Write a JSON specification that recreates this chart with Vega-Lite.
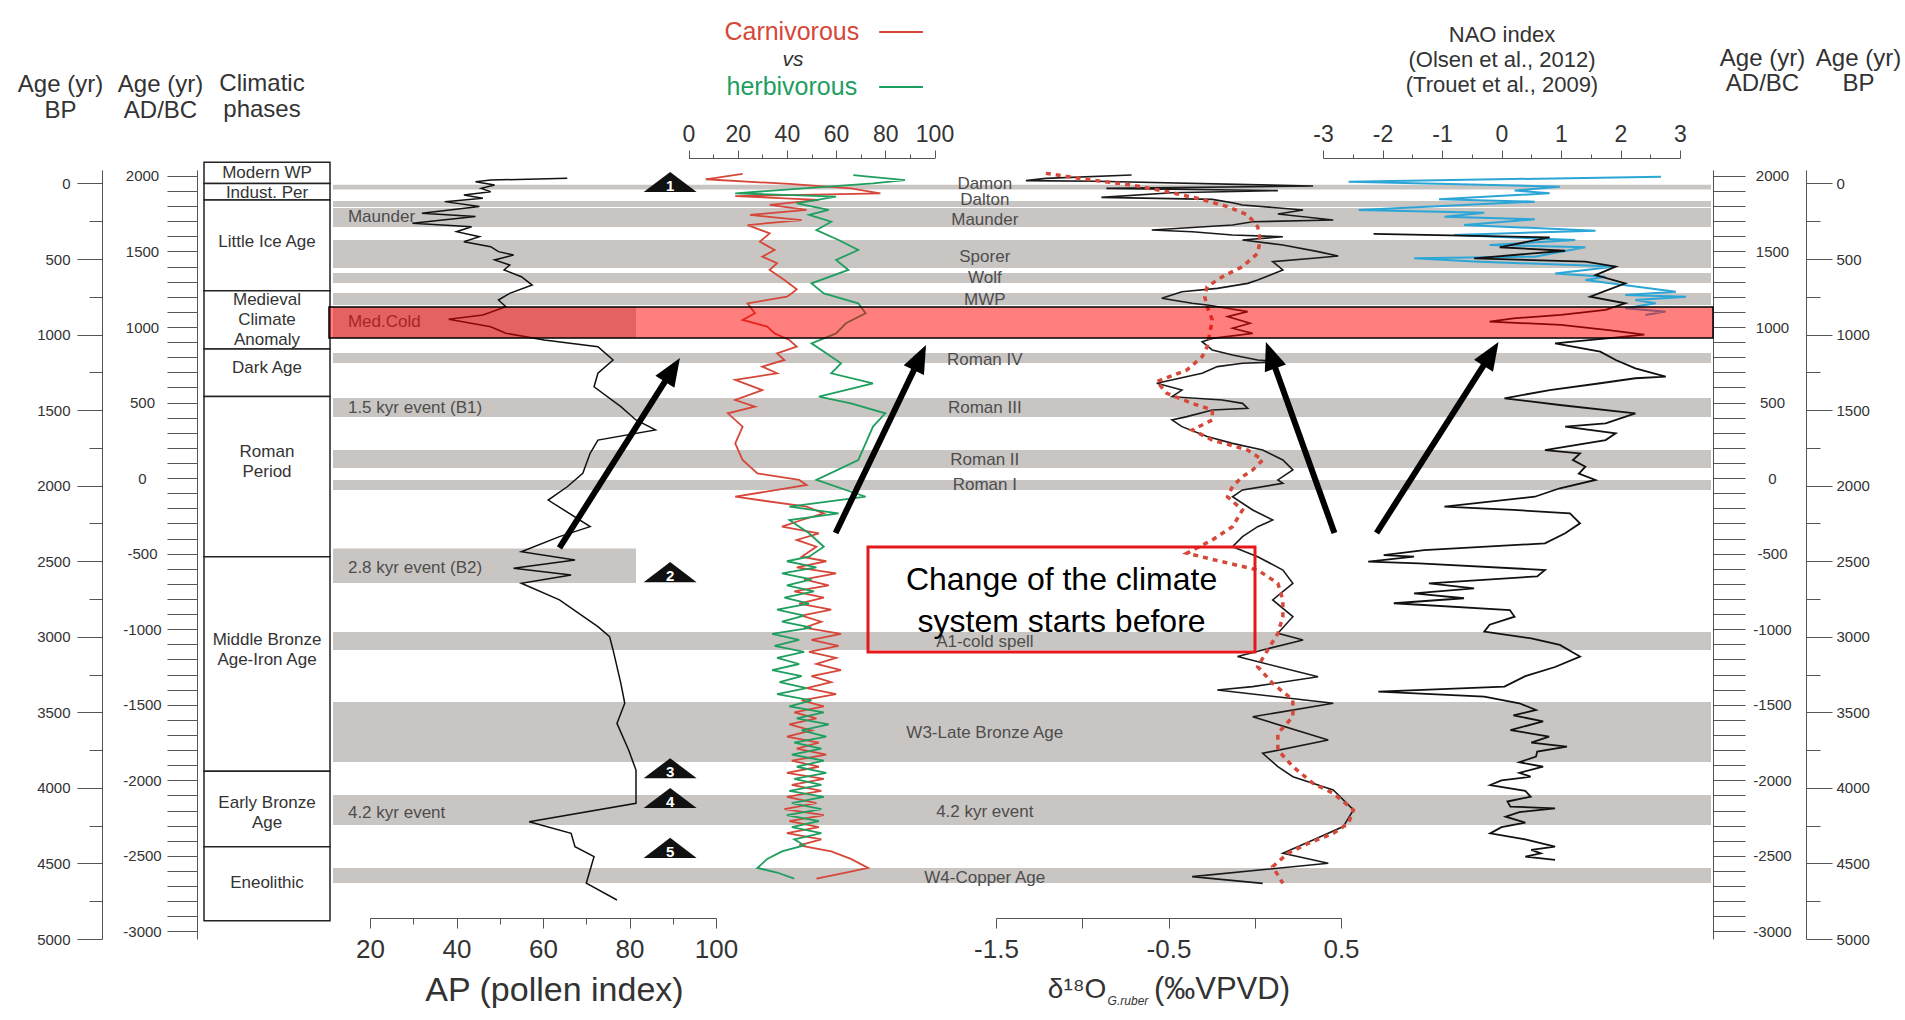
{
"$schema":"https://vega.github.io/schema/vega-lite/v6.json",
"width":1905,"height":1020,"autosize":{"type":"none"},"padding":0,"background":"#ffffff",
"config":{"font":"Liberation Sans","view":{"stroke":null},
"axis":{"grid":false,"labelFlush":false,"labelOverlap":false,"labelBound":false,"domainColor":"#555","tickColor":"#555","labelColor":"#333","titleColor":"#333","labelFont":"Liberation Sans","titleFont":"Liberation Sans","titleFontWeight":"normal"}},
"resolve":{"scale":{"x":"independent"},"axis":{"x":"independent","y":"independent"}},
"datasets":{
"bands":[
{"name":"Damon","bp":8,"bp2":40,"extent":"all"},
{"name":"Dalton","bp":116,"bp2":156,"extent":"all"},
{"name":"Maunder","bp":162,"bp2":288,"extent":"all"},
{"name":"Sporer","bp":374,"bp2":559,"extent":"all"},
{"name":"Wolf","bp":592,"bp2":658,"extent":"all"},
{"name":"MWP","bp":725,"bp2":804,"extent":"all"},
{"name":"Roman IV","bp":1122,"bp2":1188,"extent":"all"},
{"name":"Roman III / 1.5 kyr event (B1)","bp":1420,"bp2":1545,"extent":"all"},
{"name":"Roman II","bp":1764,"bp2":1883,"extent":"all"},
{"name":"Roman I","bp":1962,"bp2":2029,"extent":"all"},
{"name":"A1-cold spell","bp":2968,"bp2":3087,"extent":"all"},
{"name":"W3-Late Bronze Age","bp":3432,"bp2":3829,"extent":"all"},
{"name":"4.2 kyr event","bp":4047,"bp2":4246,"extent":"all"},
{"name":"W4-Copper Age","bp":4530,"bp2":4629,"extent":"all"},
{"name":"Med.Cold","bp":817,"bp2":1022,"extent":"ap"},
{"name":"2.8 kyr event (B2)","bp":2416,"bp2":2644,"extent":"ap"}],
"band_labels":[
{"label":"Damon","bp":3,"pos":"center"},
{"label":"Dalton","bp":109,"pos":"center"},
{"label":"Maunder","bp":242,"pos":"center"},
{"label":"Sporer","bp":486,"pos":"center"},
{"label":"Wolf","bp":626,"pos":"center"},
{"label":"MWP","bp":771,"pos":"center"},
{"label":"Roman IV","bp":1168,"pos":"center"},
{"label":"Roman III","bp":1486,"pos":"center"},
{"label":"Roman II","bp":1830,"pos":"center"},
{"label":"Roman I","bp":1996,"pos":"center"},
{"label":"A1-cold spell","bp":3035,"pos":"center"},
{"label":"W3-Late Bronze Age","bp":3637,"pos":"center"},
{"label":"4.2 kyr event","bp":4160,"pos":"center"},
{"label":"W4-Copper Age","bp":4596,"pos":"center"},
{"label":"Maunder","bp":222,"pos":"left"},
{"label":"Med.Cold","bp":917,"pos":"left"},
{"label":"1.5 kyr event (B1)","bp":1487,"pos":"left"},
{"label":"2.8 kyr event (B2)","bp":2543,"pos":"left"},
{"label":"4.2 kyr event","bp":4166,"pos":"left"}],
"phases":[
{"phase":"Modern WP","bp":-140,"bp2":0,"label_bp":-69},
{"phase":"Indust. Per","bp":0,"bp2":110,"label_bp":62},
{"phase":"Little Ice Age","bp":110,"bp2":710,"label_bp":387},
{"phase":"Medieval\nClimate\nAnomaly","bp":710,"bp2":1095,"label_bp":771},
{"phase":"Dark Age","bp":1095,"bp2":1410,"label_bp":1221},
{"phase":"Roman\nPeriod","bp":1410,"bp2":2470,"label_bp":1777},
{"phase":"Middle Bronze\nAge-Iron Age","bp":2470,"bp2":3890,"label_bp":3023},
{"phase":"Early Bronze\nAge","bp":3890,"bp2":4390,"label_bp":4101},
{"phase":"Eneolithic","bp":4390,"bp2":4880,"label_bp":4629}],
"events":[{"event":"1","bp":-10},{"event":"2","bp":2572},{"event":"3","bp":3870},{"event":"4","bp":4067},{"event":"5","bp":4397}],
"arrows":[
{"arrow":1,"tail_v":63.8,"tail_bp":2412,"head_v":90.5,"head_bp":1207},
{"arrow":2,"tail_v":59.8,"tail_bp":2313,"head_v":94.9,"head_bp":1124},
{"arrow":3,"tail_v":0.462,"tail_bp":2313,"head_v":0.083,"head_bp":1107},
{"arrow":4,"tail_v":-2.1,"tail_bp":2313,"head_v":-0.134,"head_bp":1101}],
"header":[{"series":"carnivorous","label":"Carnivorous","bp":-1003},{"series":"herbivorous","label":"herbivorous","bp":-639}],
"ap":[
{"bp":-34,"ap":65.6},{"bp":-23,"ap":47.9},{"bp":-12,"ap":44.4},{"bp":10,"ap":48.8},{"bp":32,"ap":45.7},{"bp":54,"ap":47.9},{"bp":76,"ap":41.7},{"bp":98,"ap":46.1},{"bp":120,"ap":37.3},{"bp":153,"ap":45.3},{"bp":197,"ap":32.0},{"bp":219,"ap":44.4},{"bp":263,"ap":29.8},{"bp":286,"ap":43.5},{"bp":319,"ap":40.0},{"bp":352,"ap":45.3},{"bp":385,"ap":41.7},{"bp":418,"ap":47.9},{"bp":451,"ap":49.7},{"bp":473,"ap":53.2},{"bp":506,"ap":48.8},{"bp":539,"ap":52.3},{"bp":572,"ap":51.0},{"bp":617,"ap":55.0},{"bp":672,"ap":57.5},{"bp":727,"ap":52.3},{"bp":771,"ap":49.7},{"bp":815,"ap":51.4},{"bp":870,"ap":46.1},{"bp":899,"ap":38.2},{"bp":948,"ap":47.9},{"bp":991,"ap":51.4},{"bp":1036,"ap":60.3},{"bp":1080,"ap":72.7},{"bp":1168,"ap":76.2},{"bp":1256,"ap":72.7},{"bp":1345,"ap":71.8},{"bp":1477,"ap":78.0},{"bp":1565,"ap":81.5},{"bp":1631,"ap":86.0},{"bp":1698,"ap":72.7},{"bp":1786,"ap":70.9},{"bp":1918,"ap":69.2},{"bp":2007,"ap":65.6},{"bp":2095,"ap":61.2},{"bp":2271,"ap":70.9},{"bp":2337,"ap":63.8},{"bp":2437,"ap":55.0},{"bp":2492,"ap":67.4},{"bp":2547,"ap":53.2},{"bp":2591,"ap":66.5},{"bp":2646,"ap":55.0},{"bp":2756,"ap":63.8},{"bp":2933,"ap":72.7},{"bp":2999,"ap":75.4},{"bp":3087,"ap":76.2},{"bp":3308,"ap":78.0},{"bp":3440,"ap":78.9},{"bp":3573,"ap":77.1},{"bp":3749,"ap":79.8},{"bp":3882,"ap":81.5},{"bp":4102,"ap":81.5},{"bp":4224,"ap":56.8},{"bp":4301,"ap":66.5},{"bp":4389,"ap":67.4},{"bp":4455,"ap":71.8},{"bp":4631,"ap":70.0},{"bp":4742,"ap":77.1}],
"fauna":[
{"series":"carnivorous","bp":-63,"pct":22},{"series":"carnivorous","bp":-28,"pct":7},{"series":"carnivorous","bp":3,"pct":41},{"series":"carnivorous","bp":32,"pct":66},{"series":"carnivorous","bp":65,"pct":78},{"series":"carnivorous","bp":83,"pct":19},{"series":"carnivorous","bp":109,"pct":53},{"series":"carnivorous","bp":142,"pct":33},{"series":"carnivorous","bp":175,"pct":48},{"series":"carnivorous","bp":208,"pct":25},{"series":"carnivorous","bp":242,"pct":46},{"series":"carnivorous","bp":275,"pct":24},{"series":"carnivorous","bp":330,"pct":33},{"series":"carnivorous","bp":385,"pct":29},{"series":"carnivorous","bp":440,"pct":35},{"series":"carnivorous","bp":484,"pct":30},{"series":"carnivorous","bp":528,"pct":36},{"series":"carnivorous","bp":572,"pct":33},{"series":"carnivorous","bp":639,"pct":39},{"series":"carnivorous","bp":700,"pct":44},{"series":"carnivorous","bp":727,"pct":42},{"series":"carnivorous","bp":749,"pct":40},{"series":"carnivorous","bp":793,"pct":24},{"series":"carnivorous","bp":859,"pct":27},{"series":"carnivorous","bp":903,"pct":22},{"series":"carnivorous","bp":947,"pct":32},{"series":"carnivorous","bp":992,"pct":35},{"series":"carnivorous","bp":1036,"pct":41},{"series":"carnivorous","bp":1080,"pct":44},{"series":"carnivorous","bp":1124,"pct":36},{"series":"carnivorous","bp":1168,"pct":39},{"series":"carnivorous","bp":1212,"pct":30},{"series":"carnivorous","bp":1256,"pct":36},{"series":"carnivorous","bp":1300,"pct":19},{"series":"carnivorous","bp":1367,"pct":30},{"series":"carnivorous","bp":1433,"pct":19},{"series":"carnivorous","bp":1477,"pct":27},{"series":"carnivorous","bp":1521,"pct":16},{"series":"carnivorous","bp":1609,"pct":22},{"series":"carnivorous","bp":1720,"pct":19},{"series":"carnivorous","bp":1830,"pct":22},{"series":"carnivorous","bp":1918,"pct":28},{"series":"carnivorous","bp":1962,"pct":45},{"series":"carnivorous","bp":1995,"pct":48},{"series":"carnivorous","bp":2073,"pct":19},{"series":"carnivorous","bp":2139,"pct":48},{"series":"carnivorous","bp":2183,"pct":55},{"series":"carnivorous","bp":2227,"pct":46},{"series":"carnivorous","bp":2271,"pct":38},{"series":"carnivorous","bp":2315,"pct":53},{"series":"carnivorous","bp":2359,"pct":44},{"series":"carnivorous","bp":2404,"pct":52},{"series":"carnivorous","bp":2470,"pct":46},{"series":"carnivorous","bp":2500,"pct":56},{"series":"carnivorous","bp":2540,"pct":44},{"series":"carnivorous","bp":2580,"pct":60},{"series":"carnivorous","bp":2620,"pct":47},{"series":"carnivorous","bp":2660,"pct":57},{"series":"carnivorous","bp":2700,"pct":43},{"series":"carnivorous","bp":2740,"pct":55},{"series":"carnivorous","bp":2780,"pct":45},{"series":"carnivorous","bp":2820,"pct":58},{"series":"carnivorous","bp":2860,"pct":46},{"series":"carnivorous","bp":2900,"pct":54},{"series":"carnivorous","bp":2940,"pct":47},{"series":"carnivorous","bp":2980,"pct":62},{"series":"carnivorous","bp":3020,"pct":50},{"series":"carnivorous","bp":3060,"pct":61},{"series":"carnivorous","bp":3100,"pct":49},{"series":"carnivorous","bp":3140,"pct":60},{"series":"carnivorous","bp":3180,"pct":52},{"series":"carnivorous","bp":3220,"pct":62},{"series":"carnivorous","bp":3260,"pct":50},{"series":"carnivorous","bp":3300,"pct":58},{"series":"carnivorous","bp":3340,"pct":48},{"series":"carnivorous","bp":3380,"pct":60},{"series":"carnivorous","bp":3420,"pct":46},{"series":"carnivorous","bp":3460,"pct":55},{"series":"carnivorous","bp":3500,"pct":43},{"series":"carnivorous","bp":3540,"pct":52},{"series":"carnivorous","bp":3580,"pct":41},{"series":"carnivorous","bp":3620,"pct":50},{"series":"carnivorous","bp":3660,"pct":40},{"series":"carnivorous","bp":3700,"pct":53},{"series":"carnivorous","bp":3740,"pct":44},{"series":"carnivorous","bp":3780,"pct":56},{"series":"carnivorous","bp":3820,"pct":42},{"series":"carnivorous","bp":3860,"pct":53},{"series":"carnivorous","bp":3900,"pct":40},{"series":"carnivorous","bp":3940,"pct":55},{"series":"carnivorous","bp":3980,"pct":42},{"series":"carnivorous","bp":4020,"pct":54},{"series":"carnivorous","bp":4060,"pct":40},{"series":"carnivorous","bp":4100,"pct":52},{"series":"carnivorous","bp":4140,"pct":39},{"series":"carnivorous","bp":4180,"pct":55},{"series":"carnivorous","bp":4220,"pct":41},{"series":"carnivorous","bp":4260,"pct":53},{"series":"carnivorous","bp":4300,"pct":40},{"series":"carnivorous","bp":4340,"pct":54},{"series":"carnivorous","bp":4380,"pct":45},{"series":"carnivorous","bp":4420,"pct":58},{"series":"carnivorous","bp":4470,"pct":66},{"series":"carnivorous","bp":4530,"pct":73},{"series":"carnivorous","bp":4560,"pct":64},{"series":"carnivorous","bp":4600,"pct":52},
{"series":"herbivorous","bp":-56,"pct":67},{"series":"herbivorous","bp":-23,"pct":88},{"series":"herbivorous","bp":-1,"pct":75},{"series":"herbivorous","bp":65,"pct":19},{"series":"herbivorous","bp":87,"pct":60},{"series":"herbivorous","bp":131,"pct":44},{"series":"herbivorous","bp":175,"pct":57},{"series":"herbivorous","bp":208,"pct":49},{"series":"herbivorous","bp":253,"pct":58},{"series":"herbivorous","bp":308,"pct":52},{"series":"herbivorous","bp":374,"pct":61},{"series":"herbivorous","bp":440,"pct":69},{"series":"herbivorous","bp":506,"pct":60},{"series":"herbivorous","bp":572,"pct":65},{"series":"herbivorous","bp":661,"pct":50},{"series":"herbivorous","bp":727,"pct":55},{"series":"herbivorous","bp":793,"pct":69},{"series":"herbivorous","bp":859,"pct":72},{"series":"herbivorous","bp":925,"pct":64},{"series":"herbivorous","bp":992,"pct":60},{"series":"herbivorous","bp":1058,"pct":50},{"series":"herbivorous","bp":1124,"pct":56},{"series":"herbivorous","bp":1190,"pct":62},{"series":"herbivorous","bp":1256,"pct":58},{"series":"herbivorous","bp":1322,"pct":75},{"series":"herbivorous","bp":1411,"pct":53},{"series":"herbivorous","bp":1455,"pct":66},{"series":"herbivorous","bp":1521,"pct":80},{"series":"herbivorous","bp":1609,"pct":75},{"series":"herbivorous","bp":1720,"pct":72},{"series":"herbivorous","bp":1830,"pct":69},{"series":"herbivorous","bp":1962,"pct":52},{"series":"herbivorous","bp":2073,"pct":72},{"series":"herbivorous","bp":2139,"pct":41},{"series":"herbivorous","bp":2183,"pct":61},{"series":"herbivorous","bp":2227,"pct":41},{"series":"herbivorous","bp":2315,"pct":49},{"series":"herbivorous","bp":2404,"pct":55},{"series":"herbivorous","bp":2470,"pct":49},{"series":"herbivorous","bp":2500,"pct":40},{"series":"herbivorous","bp":2540,"pct":52},{"series":"herbivorous","bp":2580,"pct":38},{"series":"herbivorous","bp":2620,"pct":50},{"series":"herbivorous","bp":2660,"pct":40},{"series":"herbivorous","bp":2700,"pct":51},{"series":"herbivorous","bp":2740,"pct":39},{"series":"herbivorous","bp":2780,"pct":49},{"series":"herbivorous","bp":2820,"pct":36},{"series":"herbivorous","bp":2860,"pct":47},{"series":"herbivorous","bp":2900,"pct":38},{"series":"herbivorous","bp":2940,"pct":50},{"series":"herbivorous","bp":2980,"pct":34},{"series":"herbivorous","bp":3020,"pct":45},{"series":"herbivorous","bp":3060,"pct":35},{"series":"herbivorous","bp":3100,"pct":47},{"series":"herbivorous","bp":3140,"pct":36},{"series":"herbivorous","bp":3180,"pct":45},{"series":"herbivorous","bp":3220,"pct":34},{"series":"herbivorous","bp":3260,"pct":46},{"series":"herbivorous","bp":3300,"pct":37},{"series":"herbivorous","bp":3340,"pct":48},{"series":"herbivorous","bp":3380,"pct":36},{"series":"herbivorous","bp":3420,"pct":50},{"series":"herbivorous","bp":3460,"pct":41},{"series":"herbivorous","bp":3500,"pct":55},{"series":"herbivorous","bp":3540,"pct":44},{"series":"herbivorous","bp":3580,"pct":57},{"series":"herbivorous","bp":3620,"pct":46},{"series":"herbivorous","bp":3660,"pct":56},{"series":"herbivorous","bp":3700,"pct":43},{"series":"herbivorous","bp":3740,"pct":54},{"series":"herbivorous","bp":3780,"pct":42},{"series":"herbivorous","bp":3820,"pct":55},{"series":"herbivorous","bp":3860,"pct":44},{"series":"herbivorous","bp":3900,"pct":56},{"series":"herbivorous","bp":3940,"pct":43},{"series":"herbivorous","bp":3980,"pct":54},{"series":"herbivorous","bp":4020,"pct":41},{"series":"herbivorous","bp":4060,"pct":55},{"series":"herbivorous","bp":4100,"pct":42},{"series":"herbivorous","bp":4140,"pct":54},{"series":"herbivorous","bp":4180,"pct":40},{"series":"herbivorous","bp":4220,"pct":53},{"series":"herbivorous","bp":4260,"pct":42},{"series":"herbivorous","bp":4300,"pct":54},{"series":"herbivorous","bp":4340,"pct":43},{"series":"herbivorous","bp":4380,"pct":47},{"series":"herbivorous","bp":4420,"pct":38},{"series":"herbivorous","bp":4470,"pct":32},{"series":"herbivorous","bp":4530,"pct":28},{"series":"herbivorous","bp":4560,"pct":36},{"series":"herbivorous","bp":4600,"pct":43}],
"d18o":[
{"bp":-56,"v":-0.714},{"bp":-34,"v":-1.211},{"bp":-19,"v":-1.327},{"bp":-15,"v":-0.918},{"bp":17,"v":0.338},{"bp":32,"v":-0.86},{"bp":47,"v":0.134},{"bp":61,"v":-0.48},{"bp":92,"v":-0.889},{"bp":105,"v":-0.246},{"bp":127,"v":-0.129},{"bp":142,"v":-0.071},{"bp":175,"v":0.28},{"bp":202,"v":0.134},{"bp":242,"v":0.455},{"bp":253,"v":-0.012},{"bp":275,"v":-0.129},{"bp":308,"v":-0.597},{"bp":319,"v":-0.363},{"bp":341,"v":-0.129},{"bp":352,"v":0.163},{"bp":374,"v":-0.071},{"bp":407,"v":0.163},{"bp":451,"v":0.367},{"bp":480,"v":0.484},{"bp":495,"v":0.338},{"bp":517,"v":0.104},{"bp":572,"v":0.163},{"bp":639,"v":0.017},{"bp":661,"v":-0.041},{"bp":694,"v":-0.217},{"bp":716,"v":-0.422},{"bp":760,"v":-0.539},{"bp":793,"v":-0.363},{"bp":804,"v":-0.276},{"bp":848,"v":-0.041},{"bp":881,"v":-0.158},{"bp":925,"v":-0.027},{"bp":958,"v":-0.129},{"bp":992,"v":-0.012},{"bp":1025,"v":-0.246},{"bp":1047,"v":-0.305},{"bp":1102,"v":-0.246},{"bp":1135,"v":-0.129},{"bp":1168,"v":0.017},{"bp":1179,"v":0.163},{"bp":1190,"v":-0.071},{"bp":1212,"v":-0.217},{"bp":1256,"v":-0.305},{"bp":1322,"v":-0.568},{"bp":1367,"v":-0.422},{"bp":1411,"v":-0.48},{"bp":1433,"v":-0.188},{"bp":1455,"v":-0.071},{"bp":1488,"v":-0.041},{"bp":1499,"v":-0.246},{"bp":1543,"v":-0.393},{"bp":1565,"v":-0.48},{"bp":1609,"v":-0.422},{"bp":1675,"v":-0.276},{"bp":1720,"v":-0.129},{"bp":1764,"v":0.046},{"bp":1830,"v":0.163},{"bp":1896,"v":0.221},{"bp":1962,"v":0.134},{"bp":1984,"v":0.163},{"bp":2028,"v":-0.071},{"bp":2073,"v":-0.129},{"bp":2161,"v":-0.012},{"bp":2227,"v":0.104},{"bp":2271,"v":0.017},{"bp":2337,"v":-0.071},{"bp":2404,"v":-0.129},{"bp":2470,"v":0.017},{"bp":2558,"v":0.163},{"bp":2646,"v":0.221},{"bp":2756,"v":0.104},{"bp":2867,"v":0.221},{"bp":2977,"v":0.134},{"bp":3021,"v":0.28},{"bp":3087,"v":0.046},{"bp":3131,"v":-0.1},{"bp":3264,"v":0.367},{"bp":3330,"v":-0.012},{"bp":3352,"v":-0.217},{"bp":3440,"v":0.455},{"bp":3529,"v":-0.012},{"bp":3683,"v":0.426},{"bp":3771,"v":0.046},{"bp":3859,"v":0.134},{"bp":3926,"v":0.221},{"bp":4014,"v":0.455},{"bp":4146,"v":0.572},{"bp":4256,"v":0.513},{"bp":4345,"v":0.338},{"bp":4433,"v":0.163},{"bp":4499,"v":0.426},{"bp":4587,"v":-0.363},{"bp":4632,"v":0.046}],
"d18o_smooth":[
{"bp":-67,"v":-1.211},{"bp":-23,"v":-0.947},{"bp":10,"v":-0.714},{"bp":54,"v":-0.509},{"bp":98,"v":-0.334},{"bp":153,"v":-0.158},{"bp":208,"v":-0.041},{"bp":286,"v":0.017},{"bp":374,"v":0.031},{"bp":462,"v":0.017},{"bp":550,"v":-0.071},{"bp":617,"v":-0.188},{"bp":683,"v":-0.276},{"bp":749,"v":-0.29},{"bp":815,"v":-0.276},{"bp":903,"v":-0.246},{"bp":992,"v":-0.261},{"bp":1080,"v":-0.276},{"bp":1146,"v":-0.305},{"bp":1234,"v":-0.393},{"bp":1311,"v":-0.568},{"bp":1389,"v":-0.509},{"bp":1455,"v":-0.363},{"bp":1499,"v":-0.246},{"bp":1565,"v":-0.246},{"bp":1631,"v":-0.363},{"bp":1698,"v":-0.246},{"bp":1764,"v":-0.041},{"bp":1830,"v":0.046},{"bp":1896,"v":-0.012},{"bp":1940,"v":-0.071},{"bp":2006,"v":-0.129},{"bp":2073,"v":-0.158},{"bp":2161,"v":-0.071},{"bp":2271,"v":-0.129},{"bp":2359,"v":-0.246},{"bp":2447,"v":-0.393},{"bp":2500,"v":-0.2},{"bp":2558,"v":0.017},{"bp":2646,"v":0.134},{"bp":2756,"v":0.163},{"bp":2867,"v":0.163},{"bp":2977,"v":0.134},{"bp":3087,"v":0.075},{"bp":3198,"v":0.017},{"bp":3308,"v":0.104},{"bp":3418,"v":0.221},{"bp":3529,"v":0.221},{"bp":3639,"v":0.134},{"bp":3749,"v":0.134},{"bp":3859,"v":0.221},{"bp":3970,"v":0.338},{"bp":4036,"v":0.455},{"bp":4146,"v":0.572},{"bp":4234,"v":0.543},{"bp":4301,"v":0.455},{"bp":4367,"v":0.309},{"bp":4433,"v":0.192},{"bp":4521,"v":0.104},{"bp":4632,"v":0.163}],
"nao_trouet":[
{"bp":-45,"nao":2.68},{"bp":-12,"nao":-2.57},{"bp":21,"nao":0.98},{"bp":47,"nao":0.22},{"bp":65,"nao":0.81},{"bp":105,"nao":-1.05},{"bp":120,"nao":0.56},{"bp":175,"nao":-2.4},{"bp":193,"nao":-0.29},{"bp":220,"nao":-0.96},{"bp":237,"nao":0.56},{"bp":275,"nao":-0.63},{"bp":312,"nao":1.58},{"bp":341,"nao":-0.8},{"bp":374,"nao":1.24},{"bp":407,"nao":-0.2},{"bp":422,"nao":1.41},{"bp":484,"nao":0.56},{"bp":495,"nao":-1.47},{"bp":517,"nao":-0.46},{"bp":550,"nao":1.92},{"bp":595,"nao":0.9},{"bp":617,"nao":1.75},{"bp":639,"nao":1.41},{"bp":716,"nao":2.93},{"bp":738,"nao":2.08},{"bp":749,"nao":3.1},{"bp":771,"nao":2.25},{"bp":793,"nao":2.59},{"bp":826,"nao":2.08},{"bp":848,"nao":2.76},{"bp":870,"nao":2.42}],
"nao_olsen":[
{"bp":334,"nao":-2.15},{"bp":356,"nao":0.81},{"bp":422,"nao":-0.03},{"bp":445,"nao":1.07},{"bp":495,"nao":-0.46},{"bp":517,"nao":1.41},{"bp":550,"nao":1.92},{"bp":606,"nao":1.58},{"bp":661,"nao":2.08},{"bp":749,"nao":1.49},{"bp":793,"nao":2.08},{"bp":837,"nao":1.75},{"bp":870,"nao":1.0},{"bp":892,"nao":0.2},{"bp":914,"nao":-0.2},{"bp":936,"nao":1.0},{"bp":970,"nao":1.8},{"bp":1000,"nao":2.4},{"bp":1020,"nao":1.9},{"bp":1058,"nao":0.9},{"bp":1113,"nao":1.66},{"bp":1168,"nao":1.92},{"bp":1223,"nao":2.25},{"bp":1278,"nao":2.76},{"bp":1289,"nao":2.25},{"bp":1322,"nao":1.66},{"bp":1367,"nao":0.81},{"bp":1422,"nao":0.05},{"bp":1466,"nao":0.98},{"bp":1521,"nao":2.25},{"bp":1587,"nao":1.75},{"bp":1609,"nao":1.07},{"bp":1653,"nao":1.92},{"bp":1698,"nao":1.75},{"bp":1764,"nao":0.73},{"bp":1786,"nao":1.32},{"bp":1830,"nao":1.2},{"bp":1874,"nao":1.41},{"bp":1920,"nao":1.3},{"bp":1962,"nao":1.58},{"bp":2017,"nao":0.98},{"bp":2073,"nao":0.56},{"bp":2139,"nao":-0.96},{"bp":2160,"nao":0.2},{"bp":2183,"nao":1.15},{"bp":2249,"nao":1.32},{"bp":2315,"nao":1.07},{"bp":2382,"nao":0.73},{"bp":2426,"nao":-1.3},{"bp":2459,"nao":-1.98},{"bp":2470,"nao":-1.47},{"bp":2503,"nao":-2.24},{"bp":2514,"nao":-1.39},{"bp":2558,"nao":0.73},{"bp":2600,"nao":0.6},{"bp":2646,"nao":-1.22},{"bp":2679,"nao":-0.46},{"bp":2712,"nao":-1.47},{"bp":2745,"nao":-0.63},{"bp":2778,"nao":-1.81},{"bp":2823,"nao":0.14},{"bp":2867,"nao":0.22},{"bp":2920,"nao":-0.2},{"bp":2966,"nao":-0.29},{"bp":3010,"nao":0.5},{"bp":3054,"nao":0.98},{"bp":3131,"nao":1.32},{"bp":3200,"nao":0.9},{"bp":3260,"nao":0.4},{"bp":3330,"nao":0.05},{"bp":3363,"nao":-2.07},{"bp":3396,"nao":-0.29},{"bp":3440,"nao":0.3},{"bp":3484,"nao":0.58},{"bp":3520,"nao":0.2},{"bp":3560,"nao":0.7},{"bp":3617,"nao":0.15},{"bp":3660,"nao":0.8},{"bp":3700,"nao":0.5},{"bp":3727,"nao":1.1},{"bp":3760,"nao":0.6},{"bp":3793,"nao":0.58},{"bp":3830,"nao":0.3},{"bp":3860,"nao":0.7},{"bp":3900,"nao":0.3},{"bp":3926,"nao":0.49},{"bp":3950,"nao":0.0},{"bp":3981,"nao":-0.19},{"bp":4020,"nao":0.4},{"bp":4058,"nao":0.49},{"bp":4090,"nao":0.1},{"bp":4124,"nao":0.15},{"bp":4135,"nao":0.9},{"bp":4160,"nao":0.3},{"bp":4190,"nao":0.07},{"bp":4230,"nao":0.4},{"bp":4260,"nao":0.0},{"bp":4301,"nao":-0.19},{"bp":4340,"nao":0.4},{"bp":4389,"nao":0.9},{"bp":4410,"nao":0.5},{"bp":4433,"nao":0.66},{"bp":4455,"nao":0.4},{"bp":4477,"nao":0.9}]
},
"layer":[
{"data":{"name":"bands"},"transform":[{"filter":"datum.extent === 'all'"}],
 "mark":{"type":"rect","color":"#c9c5c3"},
 "encoding":{
  "x":{"datum":"all","type":"nominal","scale":{"type":"band","domain":["all"],"range":[333,1711],"paddingInner":0,"paddingOuter":0},"axis":null},
  "y":{"field":"bp","type":"quantitative","scale":{"domain":[-90,5000],"range":[169.9,939],"nice":false,"zero":false},
   "axis":{"orient":"left","offset":-197,"values":[-50,50,150,250,350,450,550,650,750,850,950,1050,1150,1250,1350,1450,1550,1650,1750,1850,1950,2050,2150,2250,2350,2450,2550,2650,2750,2850,2950,3050,3150,3250,3350,3450,3550,3650,3750,3850,3950,4050,4150,4250,4350,4450,4550,4650,4750,4850,4950],"tickSize":30,"labelExpr":"(1950 - datum.value) % 500 === 0 ? '' + (1950 - datum.value) : ''","labelAlign":"center","labelPadding":25,"labelFontSize":15,"title":["Age (yr)","AD/BC"],"titleAngle":0,"titleAlign":"center","titleBaseline":"top","titleX":-37,"titleY":72,"titleFontSize":24,"titleLineHeight":26}},
  "y2":{"field":"bp2"}}},
{"data":{"name":"bands"},"transform":[{"filter":"datum.extent === 'ap'"}],
 "mark":{"type":"rect","color":"#c9c5c3"},
 "encoding":{
  "x":{"datum":"ap","type":"nominal","scale":{"type":"band","domain":["ap"],"range":[333,636],"paddingInner":0,"paddingOuter":0},"axis":null},
  "y":{"field":"bp","type":"quantitative","scale":{"domain":[-90,5000],"range":[169.9,939],"nice":false,"zero":false},
   "axis":{"orient":"right","offset":-192,"values":[-50,50,150,250,350,450,550,650,750,850,950,1050,1150,1250,1350,1450,1550,1650,1750,1850,1950,2050,2150,2250,2350,2450,2550,2650,2750,2850,2950,3050,3150,3250,3350,3450,3550,3650,3750,3850,3950,4050,4150,4250,4350,4450,4550,4650,4750,4850,4950],"tickSize":32,"labelExpr":"(1950 - datum.value) % 500 === 0 ? '' + (1950 - datum.value) : ''","labelAlign":"center","labelPadding":27,"labelFontSize":15,"title":["Age (yr)","AD/BC"],"titleAngle":0,"titleAlign":"center","titleBaseline":"top","titleX":49,"titleY":46,"titleFontSize":24,"titleLineHeight":25}},
  "y2":{"field":"bp2"}}},
{"data":{"name":"phases"},
 "mark":{"type":"rect","fill":"#ffffff","stroke":"#222222","strokeWidth":1.5},
 "encoding":{
  "x":{"datum":"phases","type":"nominal","scale":{"type":"band","domain":["phases"],"range":[204,330],"paddingInner":0,"paddingOuter":0},"axis":null},
  "y":{"field":"bp","type":"quantitative","scale":{"domain":[-90,5000],"range":[169.9,939],"nice":false,"zero":false},
   "axis":{"orient":"left","offset":-102,"values":[0,500,1000,1500,2000,2500,3000,3500,4000,4500,5000],"tickSize":25,"labelPadding":7,"labelFontSize":15,"labelExpr":"'' + datum.value","title":["Age (yr)","BP"],"titleAngle":0,"titleAlign":"center","titleBaseline":"top","titleX":-42,"titleY":72,"titleFontSize":24,"titleLineHeight":26}},
  "y2":{"field":"bp2"}}},
{"data":{"name":"phases"},
 "mark":{"type":"text","fontSize":17,"color":"#333333","lineBreak":"\n","lineHeight":20,"baseline":"middle","align":"center"},
 "encoding":{
  "x":{"datum":"phases","type":"nominal","scale":{"type":"band","domain":["phases"],"range":[204,330],"paddingInner":0,"paddingOuter":0},"axis":null},
  "y":{"field":"label_bp","type":"quantitative","scale":{"domain":[-90,5000],"range":[169.9,939],"nice":false,"zero":false},
   "axis":{"orient":"left","offset":-102,"values":[250,750,1250,1750,2250,2750,3250,3750,4250,4750],"tickSize":13,"labels":false,"domain":false,"title":null}},
  "text":{"field":"phase"}}},
{"data":{"values":[{"t":"Climatic\nphases"}]},
 "mark":{"type":"text","fontSize":24,"color":"#333333","lineBreak":"\n","lineHeight":26,"baseline":"top","align":"center","dx":-5},
 "encoding":{
  "x":{"datum":"phases","type":"nominal","scale":{"type":"band","domain":["phases"],"range":[204,330],"paddingInner":0,"paddingOuter":0},"axis":null},
  "y":{"datum":-738,"type":"quantitative","scale":{"domain":[-90,5000],"range":[169.9,939],"nice":false,"zero":false},
   "axis":{"orient":"right","offset":-99,"values":[0,500,1000,1500,2000,2500,3000,3500,4000,4500,5000],"tickSize":26,"labelPadding":4,"labelFontSize":15,"labelExpr":"'' + datum.value","title":["Age (yr)","BP"],"titleAngle":0,"titleAlign":"center","titleBaseline":"top","titleX":52,"titleY":46,"titleFontSize":24,"titleLineHeight":25}},
  "text":{"field":"t"}}},
{"data":{"name":"band_labels"},"transform":[{"filter":"datum.pos === 'center'"}],
 "mark":{"type":"text","fontSize":17,"color":"#4d4d4d","baseline":"middle","align":"center"},
 "encoding":{
  "x":{"datum":-1.565,"type":"quantitative","scale":{"domain":[-1.5,0.5],"range":[996,1341],"nice":false,"zero":false},"axis":null},
  "y":{"field":"bp","type":"quantitative","scale":{"domain":[-90,5000],"range":[169.9,939],"nice":false,"zero":false},
   "axis":{"orient":"right","offset":-99,"values":[250,750,1250,1750,2250,2750,3250,3750,4250,4750],"tickSize":14,"labels":false,"domain":false,"title":null}},
  "text":{"field":"label"}}},
{"data":{"name":"band_labels"},"transform":[{"filter":"datum.pos === 'left'"}],
 "mark":{"type":"text","fontSize":17,"color":"#4d4d4d","baseline":"middle","align":"left"},
 "encoding":{
  "x":{"datum":14.9,"type":"quantitative","scale":{"domain":[20,100],"range":[370,716],"nice":false,"zero":false},"axis":null},
  "y":{"field":"bp","type":"quantitative","scale":{"domain":[-90,5000],"range":[169.9,939],"nice":false,"zero":false},"axis":null},
  "text":{"field":"label"}}},
{"data":{"name":"ap"},
 "mark":{"type":"line","color":"#111111","strokeWidth":1.5},
 "encoding":{
  "x":{"field":"ap","type":"quantitative","scale":{"domain":[20,100],"range":[370,716],"nice":false,"zero":false},
   "axis":{"orient":"bottom","offset":-102,"values":[20,40,60,80,100],"tickSize":10,"labelPadding":8,"labelFontSize":26,"title":"AP (pollen index)","titleFontSize":34,"titleX":554,"titleY":72,"titleBaseline":"middle","titleAlign":"center"}},
  "y":{"field":"bp","type":"quantitative","scale":{"domain":[-90,5000],"range":[169.9,939],"nice":false,"zero":false},"axis":null},
  "order":{"field":"bp"}}},
{"data":{"name":"fauna"},
 "mark":{"type":"line","strokeWidth":1.8},
 "encoding":{
  "x":{"field":"pct","type":"quantitative","scale":{"domain":[0,100],"range":[688.5,934.5],"nice":false,"zero":false},
   "axis":{"orient":"top","offset":-158,"values":[0,20,40,60,80,100],"tickSize":8,"labelPadding":4,"labelFontSize":23,"title":null}},
  "y":{"field":"bp","type":"quantitative","scale":{"domain":[-90,5000],"range":[169.9,939],"nice":false,"zero":false},"axis":null},
  "color":{"field":"series","type":"nominal","scale":{"domain":["carnivorous","herbivorous"],"range":["#d6473a","#1e9e5f"]},"legend":null},
  "order":{"field":"bp"}}},
{"data":{"name":"d18o"},
 "mark":{"type":"line","color":"#1a1a1a","strokeWidth":1.6},
 "encoding":{
  "x":{"field":"v","type":"quantitative","scale":{"domain":[-1.5,0.5],"range":[996,1341],"nice":false,"zero":false},
   "axis":{"orient":"bottom","offset":-102,"values":[-1.5,-1,-0.5,0,0.5],"tickSize":10,"labelPadding":8,"labelFontSize":26,"labelExpr":"abs(datum.value % 1) === 0.5 ? '' + datum.value : ''","title":null}},
  "y":{"field":"bp","type":"quantitative","scale":{"domain":[-90,5000],"range":[169.9,939],"nice":false,"zero":false},"axis":null},
  "order":{"field":"bp"}}},
{"data":{"name":"d18o_smooth"},
 "mark":{"type":"line","color":"#d5493a","strokeWidth":3.5,"strokeDash":[5,5]},
 "encoding":{
  "x":{"field":"v","type":"quantitative","scale":{"domain":[-1.5,0.5],"range":[996,1341],"nice":false,"zero":false},"axis":null},
  "y":{"field":"bp","type":"quantitative","scale":{"domain":[-90,5000],"range":[169.9,939],"nice":false,"zero":false},"axis":null},
  "order":{"field":"bp"}}},
{"data":{"name":"nao_trouet"},
 "mark":{"type":"line","color":"#2ba6d6","strokeWidth":2},
 "encoding":{
  "x":{"field":"nao","type":"quantitative","scale":{"domain":[-3,3],"range":[1323,1680],"nice":false,"zero":false},
   "axis":{"orient":"top","offset":-158,"values":[-3,-2,-1,0,1,2,3],"tickSize":8,"labelPadding":4,"labelFontSize":23,"labelExpr":"'' + datum.value","title":["NAO index","(Olsen et al., 2012)","(Trouet et al., 2009)"],"titleFontSize":22,"titleLineHeight":25,"titleBaseline":"top","titleX":1501.5,"titleY":-134,"titleAlign":"center"}},
  "y":{"field":"bp","type":"quantitative","scale":{"domain":[-90,5000],"range":[169.9,939],"nice":false,"zero":false},"axis":null},
  "order":{"field":"bp"}}},
{"data":{"name":"nao_olsen"},
 "mark":{"type":"line","color":"#111111","strokeWidth":1.8},
 "encoding":{
  "x":{"field":"nao","type":"quantitative","scale":{"domain":[-3,3],"range":[1323,1680],"nice":false,"zero":false},
   "axis":{"orient":"top","offset":-158,"values":[-2.5,-1.5,-0.5,0.5,1.5,2.5],"tickSize":4,"labels":false,"domain":false,"title":null}},
  "y":{"field":"bp","type":"quantitative","scale":{"domain":[-90,5000],"range":[169.9,939],"nice":false,"zero":false},"axis":null},
  "order":{"field":"bp"}}},
{"data":{"name":"events"},
 "mark":{"type":"point","shape":"M -1 0.38 L 0 -0.38 L 1 0.38 Z","size":2809,"filled":true,"color":"#111111","opacity":1,"strokeWidth":0},
 "encoding":{
  "x":{"datum":89.4,"type":"quantitative","scale":{"domain":[20,100],"range":[370,716],"nice":false,"zero":false},
   "axis":{"orient":"bottom","offset":-102,"values":[30,50,70,90],"tickSize":6,"labels":false,"domain":false,"title":null}},
  "y":{"field":"bp","type":"quantitative","scale":{"domain":[-90,5000],"range":[169.9,939],"nice":false,"zero":false},"axis":null}}},
{"data":{"name":"events"},
 "mark":{"type":"text","fontSize":15,"fontWeight":"bold","color":"#ffffff","baseline":"middle","align":"center","dy":4},
 "encoding":{
  "x":{"datum":89.4,"type":"quantitative","scale":{"domain":[20,100],"range":[370,716],"nice":false,"zero":false},"axis":null},
  "y":{"field":"bp","type":"quantitative","scale":{"domain":[-90,5000],"range":[169.9,939],"nice":false,"zero":false},"axis":null},
  "text":{"field":"event"}}},
{"data":{"name":"bands"},"transform":[{"filter":"datum.name === 'Med.Cold'"}],
 "mark":{"type":"rect","fill":"#ff0000","fillOpacity":0.5,"stroke":"#000000","strokeWidth":1.5},
 "encoding":{
  "x":{"datum":"box","type":"nominal","scale":{"type":"band","domain":["box"],"range":[329,1713],"paddingInner":0,"paddingOuter":0},"axis":null},
  "y":{"field":"bp","type":"quantitative","scale":{"domain":[-90,5000],"range":[169.9,939],"nice":false,"zero":false},"axis":null},
  "y2":{"field":"bp2"}}},
{"data":{"name":"arrows"},"transform":[{"filter":"datum.arrow === 1"}],
 "mark":{"type":"rule","color":"#000000","strokeWidth":6},
 "encoding":{
  "x":{"field":"tail_v","type":"quantitative","scale":{"domain":[20,100],"range":[370,716],"nice":false,"zero":false},"axis":null},
  "x2":{"field":"head_v"},
  "y":{"field":"tail_bp","type":"quantitative","scale":{"domain":[-90,5000],"range":[169.9,939],"nice":false,"zero":false},"axis":null},
  "y2":{"field":"head_bp"}}},
{"data":{"name":"arrows"},"transform":[{"filter":"datum.arrow === 1"}],
 "mark":{"type":"point","shape":"M 0 -0.5 L -0.6 1 L 0.6 1 Z","size":1400,"filled":true,"color":"#000000","opacity":1,"strokeWidth":0,"angle":32.4},
 "encoding":{
  "x":{"field":"head_v","type":"quantitative","scale":{"domain":[20,100],"range":[370,716],"nice":false,"zero":false},"axis":null},
  "y":{"field":"head_bp","type":"quantitative","scale":{"domain":[-90,5000],"range":[169.9,939],"nice":false,"zero":false},"axis":null}}},
{"data":{"name":"arrows"},"transform":[{"filter":"datum.arrow === 2"}],
 "mark":{"type":"rule","color":"#000000","strokeWidth":6},
 "encoding":{
  "x":{"field":"tail_v","type":"quantitative","scale":{"domain":[0,100],"range":[688.5,934.5],"nice":false,"zero":false},"axis":null},
  "x2":{"field":"head_v"},
  "y":{"field":"tail_bp","type":"quantitative","scale":{"domain":[-90,5000],"range":[169.9,939],"nice":false,"zero":false},"axis":null},
  "y2":{"field":"head_bp"}}},
{"data":{"name":"arrows"},"transform":[{"filter":"datum.arrow === 2"}],
 "mark":{"type":"point","shape":"M 0 -0.5 L -0.6 1 L 0.6 1 Z","size":1400,"filled":true,"color":"#000000","opacity":1,"strokeWidth":0,"angle":25.7},
 "encoding":{
  "x":{"field":"head_v","type":"quantitative","scale":{"domain":[0,100],"range":[688.5,934.5],"nice":false,"zero":false},"axis":null},
  "y":{"field":"head_bp","type":"quantitative","scale":{"domain":[-90,5000],"range":[169.9,939],"nice":false,"zero":false},"axis":null}}},
{"data":{"name":"arrows"},"transform":[{"filter":"datum.arrow === 3"}],
 "mark":{"type":"rule","color":"#000000","strokeWidth":6},
 "encoding":{
  "x":{"field":"tail_v","type":"quantitative","scale":{"domain":[-1.5,0.5],"range":[996,1341],"nice":false,"zero":false},"axis":null},
  "x2":{"field":"head_v"},
  "y":{"field":"tail_bp","type":"quantitative","scale":{"domain":[-90,5000],"range":[169.9,939],"nice":false,"zero":false},"axis":null},
  "y2":{"field":"head_bp"}}},
{"data":{"name":"arrows"},"transform":[{"filter":"datum.arrow === 3"}],
 "mark":{"type":"point","shape":"M 0 -0.5 L -0.6 1 L 0.6 1 Z","size":1400,"filled":true,"color":"#000000","opacity":1,"strokeWidth":0,"angle":340.3},
 "encoding":{
  "x":{"field":"head_v","type":"quantitative","scale":{"domain":[-1.5,0.5],"range":[996,1341],"nice":false,"zero":false},"axis":null},
  "y":{"field":"head_bp","type":"quantitative","scale":{"domain":[-90,5000],"range":[169.9,939],"nice":false,"zero":false},"axis":null}}},
{"data":{"name":"arrows"},"transform":[{"filter":"datum.arrow === 4"}],
 "mark":{"type":"rule","color":"#000000","strokeWidth":6},
 "encoding":{
  "x":{"field":"tail_v","type":"quantitative","scale":{"domain":[-3,3],"range":[1323,1680],"nice":false,"zero":false},"axis":null},
  "x2":{"field":"head_v"},
  "y":{"field":"tail_bp","type":"quantitative","scale":{"domain":[-90,5000],"range":[169.9,939],"nice":false,"zero":false},"axis":null},
  "y2":{"field":"head_bp"}}},
{"data":{"name":"arrows"},"transform":[{"filter":"datum.arrow === 4"}],
 "mark":{"type":"point","shape":"M 0 -0.5 L -0.6 1 L 0.6 1 Z","size":1400,"filled":true,"color":"#000000","opacity":1,"strokeWidth":0,"angle":32.3},
 "encoding":{
  "x":{"field":"head_v","type":"quantitative","scale":{"domain":[-3,3],"range":[1323,1680],"nice":false,"zero":false},"axis":null},
  "y":{"field":"head_bp","type":"quantitative","scale":{"domain":[-90,5000],"range":[169.9,939],"nice":false,"zero":false},"axis":null}}},
{"data":{"values":[{"note":"box"}]},
 "mark":{"type":"rect","fill":"#ffffff","fillOpacity":0,"stroke":"#e3191c","strokeWidth":3},
 "encoding":{
  "x":{"datum":-2.242,"type":"quantitative","scale":{"domain":[-1.5,0.5],"range":[996,1341],"nice":false,"zero":false},"axis":null},
  "x2":{"datum":0.0014},
  "y":{"datum":2406,"type":"quantitative","scale":{"domain":[-90,5000],"range":[169.9,939],"nice":false,"zero":false},"axis":null},
  "y2":{"datum":3101}}},
{"data":{"values":[{"t":"Change of the climate\nsystem starts before"}]},
 "mark":{"type":"text","fontSize":32,"color":"#000000","lineBreak":"\n","lineHeight":42,"baseline":"middle","align":"center"},
 "encoding":{
  "x":{"datum":-1.12,"type":"quantitative","scale":{"domain":[-1.5,0.5],"range":[996,1341],"nice":false,"zero":false},"axis":null},
  "y":{"datum":2625,"type":"quantitative","scale":{"domain":[-90,5000],"range":[169.9,939],"nice":false,"zero":false},"axis":null},
  "text":{"field":"t"}}},
{"data":{"name":"header"},
 "mark":{"type":"text","fontSize":25,"baseline":"middle","align":"center"},
 "encoding":{
  "x":{"datum":42,"type":"quantitative","scale":{"domain":[0,100],"range":[688.5,934.5],"nice":false,"zero":false},
   "axis":{"orient":"top","offset":-158,"values":[10,30,50,70,90],"tickSize":4,"labels":false,"domain":false,"title":null}},
  "y":{"field":"bp","type":"quantitative","scale":{"domain":[-90,5000],"range":[169.9,939],"nice":false,"zero":false},"axis":null},
  "color":{"field":"series","type":"nominal","scale":{"domain":["carnivorous","herbivorous"],"range":["#d6473a","#1e9e5f"]},"legend":null},
  "text":{"field":"label"}}},
{"data":{"name":"header"},
 "mark":{"type":"rule","strokeWidth":2},
 "encoding":{
  "x":{"datum":77.5,"type":"quantitative","scale":{"domain":[0,100],"range":[688.5,934.5],"nice":false,"zero":false},"axis":null},
  "x2":{"datum":95.3},
  "y":{"field":"bp","type":"quantitative","scale":{"domain":[-90,5000],"range":[169.9,939],"nice":false,"zero":false},"axis":null},
  "color":{"field":"series","type":"nominal","scale":{"domain":["carnivorous","herbivorous"],"range":["#d6473a","#1e9e5f"]},"legend":null}}},
{"data":{"values":[{"t":"vs"}]},
 "mark":{"type":"text","fontSize":21,"fontStyle":"italic","color":"#333333","baseline":"middle","align":"center"},
 "encoding":{
  "x":{"datum":42.5,"type":"quantitative","scale":{"domain":[0,100],"range":[688.5,934.5],"nice":false,"zero":false},"axis":null},
  "y":{"datum":-817,"type":"quantitative","scale":{"domain":[-90,5000],"range":[169.9,939],"nice":false,"zero":false},"axis":null},
  "text":{"field":"t"}}},
{"data":{"values":[{"t":"δ¹⁸O"}]},
 "mark":{"type":"text","fontSize":28,"color":"#333333","baseline":"middle","align":"center"},
 "encoding":{
  "x":{"datum":-1.03,"type":"quantitative","scale":{"domain":[-1.5,0.5],"range":[996,1341],"nice":false,"zero":false},"axis":null},
  "y":{"datum":5338,"type":"quantitative","scale":{"domain":[-90,5000],"range":[169.9,939],"nice":false,"zero":false},"axis":null},
  "text":{"field":"t"}}},
{"data":{"values":[{"t":"(‰VPVD)"}]},
 "mark":{"type":"text","fontSize":31,"color":"#333333","baseline":"middle","align":"center"},
 "encoding":{
  "x":{"datum":-0.19,"type":"quantitative","scale":{"domain":[-1.5,0.5],"range":[996,1341],"nice":false,"zero":false},"axis":null},
  "y":{"datum":5338,"type":"quantitative","scale":{"domain":[-90,5000],"range":[169.9,939],"nice":false,"zero":false},"axis":null},
  "text":{"field":"t"}}},
{"data":{"values":[{"t":"G.ruber"}]},
 "mark":{"type":"text","fontSize":12,"fontStyle":"italic","color":"#333333","baseline":"middle","align":"center"},
 "encoding":{
  "x":{"datum":-0.735,"type":"quantitative","scale":{"domain":[-1.5,0.5],"range":[996,1341],"nice":false,"zero":false},"axis":null},
  "y":{"datum":5410,"type":"quantitative","scale":{"domain":[-90,5000],"range":[169.9,939],"nice":false,"zero":false},"axis":null},
  "text":{"field":"t"}}}
]
}
